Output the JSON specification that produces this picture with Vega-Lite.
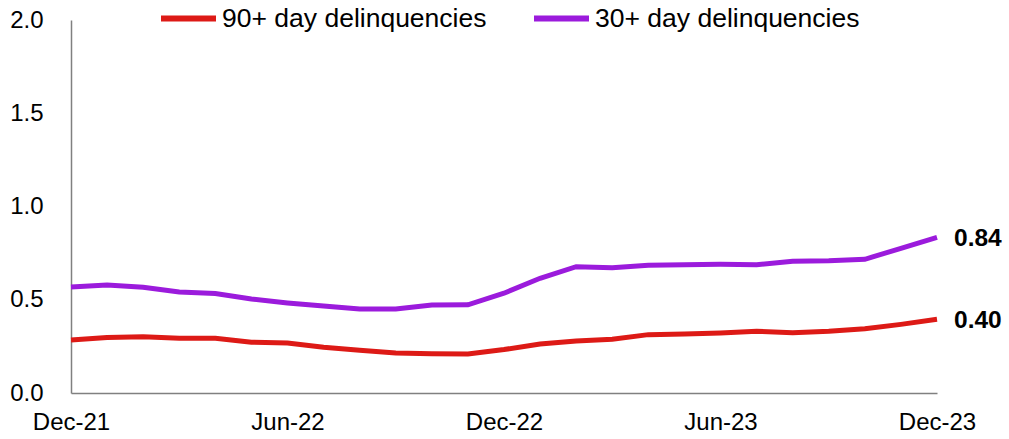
{
  "$schema": "https://vega.github.io/schema/vega-lite/v6.json",
  "width": 866,
  "height": 373,
  "autosize": {"type": "none"},
  "padding": {"left": 71, "top": 20, "right": 72, "bottom": 46},
  "background": "white",
  "config": {
    "view": {"stroke": null},
    "font": "Liberation Sans",
    "axis": {"labelFont": "Liberation Sans", "labelFontSize": 24, "labelColor": "#000000", "domainColor": "#808080", "domainWidth": 1.5, "ticks": false, "grid": false, "title": null}
  },
  "data": {
    "values": [
      {"month": "Dec-21", "i": 0, "series": "90+ day delinquencies", "value": 0.284},
      {"month": "Jan-22", "i": 1, "series": "90+ day delinquencies", "value": 0.297},
      {"month": "Feb-22", "i": 2, "series": "90+ day delinquencies", "value": 0.302},
      {"month": "Mar-22", "i": 3, "series": "90+ day delinquencies", "value": 0.293},
      {"month": "Apr-22", "i": 4, "series": "90+ day delinquencies", "value": 0.293},
      {"month": "May-22", "i": 5, "series": "90+ day delinquencies", "value": 0.272},
      {"month": "Jun-22", "i": 6, "series": "90+ day delinquencies", "value": 0.268},
      {"month": "Jul-22", "i": 7, "series": "90+ day delinquencies", "value": 0.245},
      {"month": "Aug-22", "i": 8, "series": "90+ day delinquencies", "value": 0.229},
      {"month": "Sep-22", "i": 9, "series": "90+ day delinquencies", "value": 0.214},
      {"month": "Oct-22", "i": 10, "series": "90+ day delinquencies", "value": 0.211},
      {"month": "Nov-22", "i": 11, "series": "90+ day delinquencies", "value": 0.209},
      {"month": "Dec-22", "i": 12, "series": "90+ day delinquencies", "value": 0.233},
      {"month": "Jan-23", "i": 13, "series": "90+ day delinquencies", "value": 0.263},
      {"month": "Feb-23", "i": 14, "series": "90+ day delinquencies", "value": 0.279},
      {"month": "Mar-23", "i": 15, "series": "90+ day delinquencies", "value": 0.288},
      {"month": "Apr-23", "i": 16, "series": "90+ day delinquencies", "value": 0.313},
      {"month": "May-23", "i": 17, "series": "90+ day delinquencies", "value": 0.316},
      {"month": "Jun-23", "i": 18, "series": "90+ day delinquencies", "value": 0.322},
      {"month": "Jul-23", "i": 19, "series": "90+ day delinquencies", "value": 0.331},
      {"month": "Aug-23", "i": 20, "series": "90+ day delinquencies", "value": 0.323},
      {"month": "Sep-23", "i": 21, "series": "90+ day delinquencies", "value": 0.331},
      {"month": "Oct-23", "i": 22, "series": "90+ day delinquencies", "value": 0.345},
      {"month": "Nov-23", "i": 23, "series": "90+ day delinquencies", "value": 0.368},
      {"month": "Dec-23", "i": 24, "series": "90+ day delinquencies", "value": 0.395, "label": "0.40"},
      {"month": "Dec-21", "i": 0, "series": "30+ day delinquencies", "value": 0.569},
      {"month": "Jan-22", "i": 1, "series": "30+ day delinquencies", "value": 0.579},
      {"month": "Feb-22", "i": 2, "series": "30+ day delinquencies", "value": 0.567},
      {"month": "Mar-22", "i": 3, "series": "30+ day delinquencies", "value": 0.542},
      {"month": "Apr-22", "i": 4, "series": "30+ day delinquencies", "value": 0.534},
      {"month": "May-22", "i": 5, "series": "30+ day delinquencies", "value": 0.504},
      {"month": "Jun-22", "i": 6, "series": "30+ day delinquencies", "value": 0.483},
      {"month": "Jul-22", "i": 7, "series": "30+ day delinquencies", "value": 0.466},
      {"month": "Aug-22", "i": 8, "series": "30+ day delinquencies", "value": 0.45},
      {"month": "Sep-22", "i": 9, "series": "30+ day delinquencies", "value": 0.45},
      {"month": "Oct-22", "i": 10, "series": "30+ day delinquencies", "value": 0.472},
      {"month": "Nov-22", "i": 11, "series": "30+ day delinquencies", "value": 0.473},
      {"month": "Dec-22", "i": 12, "series": "30+ day delinquencies", "value": 0.535},
      {"month": "Jan-23", "i": 13, "series": "30+ day delinquencies", "value": 0.615},
      {"month": "Feb-23", "i": 14, "series": "30+ day delinquencies", "value": 0.677},
      {"month": "Mar-23", "i": 15, "series": "30+ day delinquencies", "value": 0.672},
      {"month": "Apr-23", "i": 16, "series": "30+ day delinquencies", "value": 0.685},
      {"month": "May-23", "i": 17, "series": "30+ day delinquencies", "value": 0.688},
      {"month": "Jun-23", "i": 18, "series": "30+ day delinquencies", "value": 0.69},
      {"month": "Jul-23", "i": 19, "series": "30+ day delinquencies", "value": 0.688},
      {"month": "Aug-23", "i": 20, "series": "30+ day delinquencies", "value": 0.706},
      {"month": "Sep-23", "i": 21, "series": "30+ day delinquencies", "value": 0.709},
      {"month": "Oct-23", "i": 22, "series": "30+ day delinquencies", "value": 0.717},
      {"month": "Nov-23", "i": 23, "series": "30+ day delinquencies", "value": 0.776},
      {"month": "Dec-23", "i": 24, "series": "30+ day delinquencies", "value": 0.835, "label": "0.84"}
    ]
  },
  "encoding": {
    "x": {
      "field": "month", "type": "ordinal", "sort": null,
      "scale": {"type": "point", "padding": 0},
      "axis": {"values": ["Dec-21", "Jun-22", "Dec-22", "Jun-23", "Dec-23"], "labelAngle": 0, "labelPadding": 17, "labelAlign": "center"}
    },
    "y": {
      "field": "value", "type": "quantitative",
      "scale": {"domain": [0, 2], "nice": false},
      "axis": {"values": [0, 0.5, 1, 1.5, 2], "format": ".1f", "labelPadding": 28}
    }
  },
  "layer": [
    {
      "mark": {"type": "line", "strokeWidth": 5, "strokeCap": "butt"},
      "encoding": {
        "color": {
          "field": "series", "type": "nominal",
          "scale": {"domain": ["90+ day delinquencies", "30+ day delinquencies"], "range": ["#dd1a16", "#9b1bdc"]},
          "legend": {
            "title": null, "orient": "none", "direction": "horizontal",
            "legendX": 87, "legendY": -32,
            "symbolType": "stroke", "symbolStrokeWidth": 6, "symbolSize": 3025,
            "labelFontSize": 26.5, "labelFont": "Liberation Sans", "labelColor": "#000000",
            "labelLimit": 0, "labelOffset": 3, "columnPadding": 35, "symbolOffset": 0
          }
        }
      }
    },
    {
      "mark": {"type": "text", "align": "left", "dx": 17, "dy": 2, "fontSize": 24.5, "fontWeight": "bold", "font": "Liberation Sans", "color": "#000000"},
      "transform": [{"filter": "datum.label != null"}],
      "encoding": {"text": {"field": "label"}}
    }
  ]
}
